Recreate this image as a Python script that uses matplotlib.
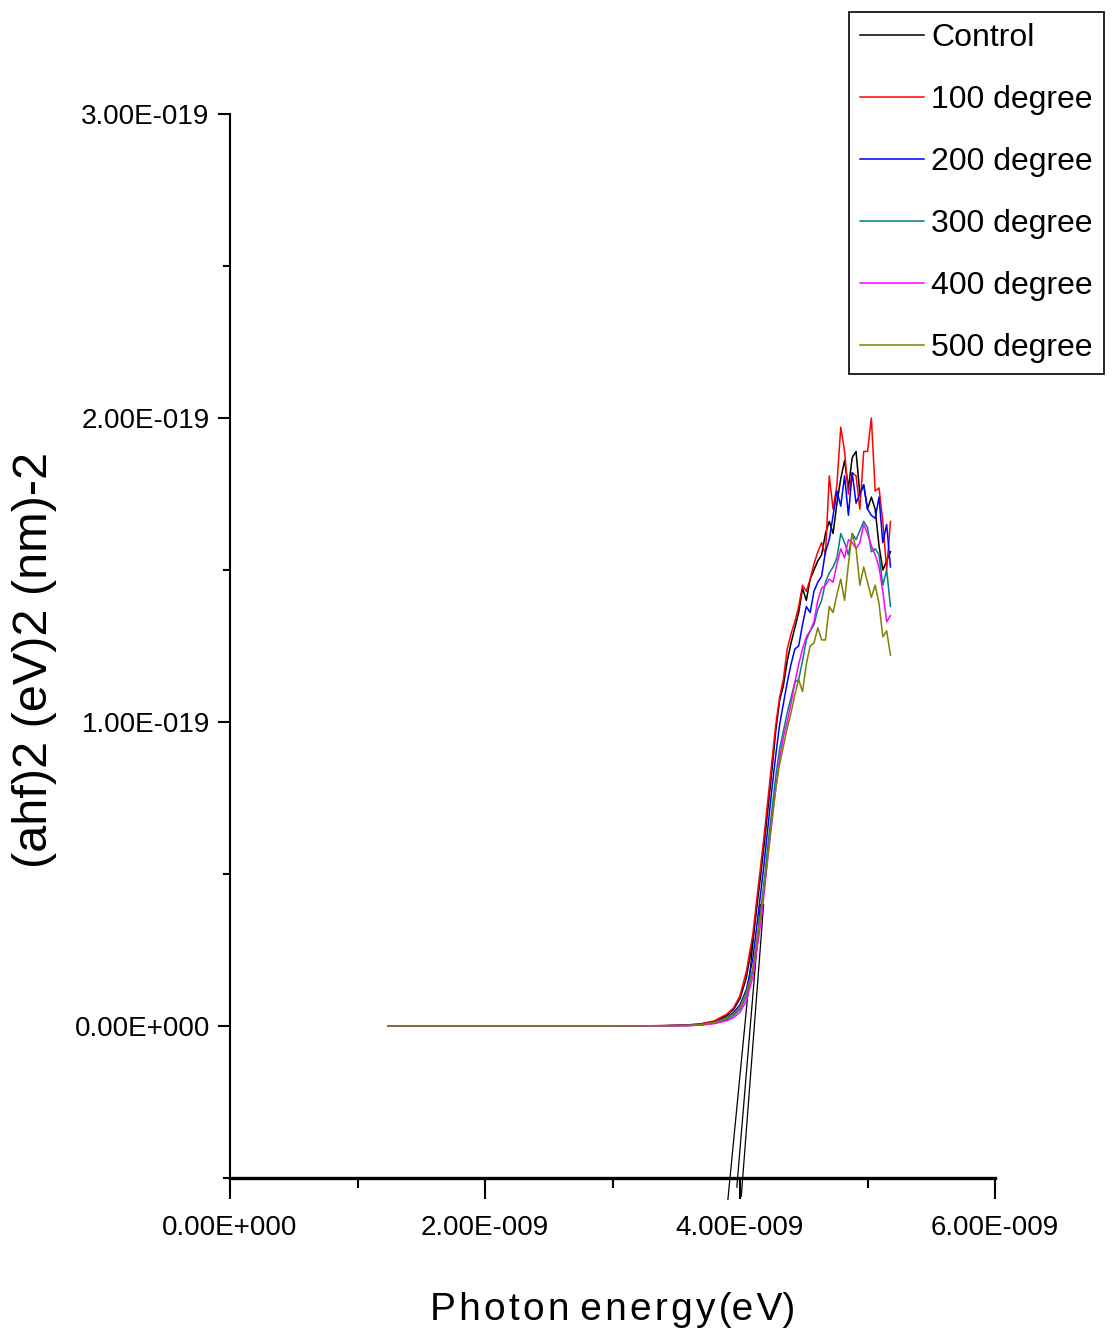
# -*- coding: utf-8 -*-

import numpy as np
import matplotlib
matplotlib.use("Agg")
import matplotlib.pyplot as plt
from matplotlib.ticker import MultipleLocator, FuncFormatter

plt.rcParams['font.family'] = ['Liberation Sans Narrow', 'Liberation Sans', 'DejaVu Sans']

# Energía del fotón en unidades de 1E-009, (ahf)^2 en unidades de 1E-019
energia = [1.24, 2.0, 3.0, 3.4, 3.6, 3.7, 3.8, 3.9, 3.95, 4.0, 4.05, 4.1,
           4.16, 4.19, 4.22, 4.25, 4.28, 4.31, 4.34, 4.37, 4.40, 4.43, 4.46, 4.49,
           4.52, 4.55, 4.58, 4.61, 4.64, 4.67, 4.70, 4.73, 4.76, 4.79, 4.82, 4.85,
           4.88, 4.91, 4.94, 4.97, 5.00, 5.03, 5.06, 5.09, 5.12, 5.15, 5.18]

control = [0, 0, 0, 0.001, 0.003, 0.007, 0.015, 0.035, 0.055, 0.09, 0.16, 0.28,
           0.49, 0.60, 0.72, 0.84, 0.97, 1.07, 1.12, 1.20, 1.26, 1.31, 1.36, 1.44,
           1.40, 1.47, 1.50, 1.53, 1.55, 1.62, 1.66, 1.62, 1.72, 1.80, 1.86, 1.77,
           1.87, 1.89, 1.75, 1.78, 1.70, 1.74, 1.70, 1.58, 1.50, 1.53, 1.56]

grado_100 = [0, 0, 0, 0.001, 0.004, 0.008, 0.017, 0.04, 0.06, 0.10, 0.18, 0.30,
             0.52, 0.63, 0.75, 0.87, 0.99, 1.08, 1.14, 1.24, 1.29, 1.33, 1.38, 1.45,
             1.43, 1.47, 1.52, 1.56, 1.59, 1.55, 1.81, 1.70, 1.78, 1.97, 1.89, 1.75,
             1.82, 1.81, 1.70, 1.89, 1.89, 2.00, 1.76, 1.77, 1.66, 1.50, 1.66]

grado_200 = [0, 0, 0, 0.001, 0.002, 0.005, 0.012, 0.028, 0.045, 0.07, 0.12, 0.22,
             0.43, 0.54, 0.66, 0.78, 0.89, 0.99, 1.06, 1.13, 1.19, 1.24, 1.25, 1.32,
             1.38, 1.36, 1.43, 1.46, 1.48, 1.56, 1.60, 1.68, 1.76, 1.71, 1.81, 1.68,
             1.82, 1.72, 1.75, 1.78, 1.70, 1.68, 1.67, 1.74, 1.59, 1.65, 1.51]

grado_300 = [0, 0, 0, 0, 0.002, 0.004, 0.010, 0.022, 0.035, 0.055, 0.10, 0.18,
             0.37, 0.48, 0.60, 0.71, 0.82, 0.91, 0.97, 1.03, 1.08, 1.13, 1.14, 1.20,
             1.27, 1.30, 1.32, 1.37, 1.40, 1.46, 1.49, 1.51, 1.54, 1.62, 1.59, 1.55,
             1.62, 1.60, 1.63, 1.66, 1.64, 1.56, 1.57, 1.55, 1.45, 1.50, 1.38]

grado_400 = [0, 0, 0, 0, 0.001, 0.003, 0.008, 0.018, 0.028, 0.045, 0.085, 0.16,
             0.33, 0.44, 0.56, 0.67, 0.78, 0.88, 0.95, 1.00, 1.06, 1.13, 1.19, 1.24,
             1.28, 1.30, 1.33, 1.40, 1.44, 1.45, 1.47, 1.46, 1.52, 1.57, 1.54, 1.60,
             1.59, 1.57, 1.59, 1.65, 1.62, 1.58, 1.55, 1.51, 1.43, 1.33, 1.35]

grado_500 = [0, 0, 0, 0.001, 0.002, 0.005, 0.012, 0.026, 0.04, 0.062, 0.11, 0.19,
             0.36, 0.46, 0.57, 0.68, 0.78, 0.86, 0.92, 0.98, 1.03, 1.09, 1.14, 1.10,
             1.19, 1.25, 1.26, 1.31, 1.27, 1.27, 1.38, 1.36, 1.42, 1.47, 1.40, 1.52,
             1.62, 1.57, 1.45, 1.51, 1.46, 1.41, 1.45, 1.39, 1.28, 1.30, 1.22]

series = [control, grado_100, grado_200, grado_300, grado_400, grado_500]
etiquetas = ["Control", "100 degree", "200 degree", "300 degree", "400 degree", "500 degree"]
colores = ["#000000", "#FF0000", "#0000FF", "#008080", "#FF00FF", "#808000"]

# Rectas tangentes para estimar el gap (extremo inferior, extremo superior)
tangente_x = [[3.905, 4.13], [3.975, 4.16], [4.01, 4.185]]
tangente_y = [[-0.57, 0.40], [-0.53, 0.40], [-0.56, 0.40]]


def formato_e(valor, pos):
	if abs(valor) < 1e-40:
		return "0.00E+000"
	exponente = int(np.floor(round(np.log10(abs(valor)), 6)))
	mantisa = valor / 10.0 ** exponente
	return "{:.2f}E{:+04d}".format(mantisa, exponente)


fig = plt.figure(figsize=(11.14, 13.40), dpi=100)
ax = fig.add_axes([0.2065, 0.1209, 0.6867, 0.7940])

x = np.array(energia) * 1e-9
for valores, etiqueta, color in zip(series, etiquetas, colores):
	ax.plot(x, np.array(valores) * 1e-19, color=color, lw=1.1, label=etiqueta)

for tx, ty in zip(tangente_x, tangente_y):
	ax.plot(np.array(tx) * 1e-9, np.array(ty) * 1e-19, color="black", lw=0.9,
			clip_on=False, zorder=1)

ax.set_xlim(0, 6e-9)
ax.set_ylim(-0.5e-19, 3e-19)

ax.xaxis.set_major_locator(MultipleLocator(2e-9))
ax.xaxis.set_minor_locator(MultipleLocator(1e-9))
ax.yaxis.set_major_locator(MultipleLocator(1e-19))
ax.yaxis.set_minor_locator(MultipleLocator(0.5e-19))
ax.xaxis.set_major_formatter(FuncFormatter(formato_e))
ax.yaxis.set_major_formatter(FuncFormatter(formato_e))

ax.spines["top"].set_visible(False)
ax.spines["right"].set_visible(False)
ax.spines["left"].set_linewidth(1.5)
ax.spines["bottom"].set_linewidth(2.4)

ax.tick_params(axis="x", which="major", direction="out", length=15, width=1.5, pad=12, labelsize=20)
ax.tick_params(axis="x", which="minor", direction="out", length=7, width=1.5)
ax.tick_params(axis="y", which="major", direction="out", length=8.6, width=1.5, pad=6, labelsize=20)
ax.tick_params(axis="y", which="minor", direction="out", length=5, width=1.5)

fig.text(0.0314, 0.5075, "(ahf)2 (eV)2 (nm)-2", rotation=90, ha="center", va="center",
		 family=["Liberation Sans", "DejaVu Sans"], fontsize=35)
fig.text(0.5503, 0.0224, "P\u200ah\u200ao\u200at\u200ao\u200an e\u200an\u200ae\u200ar\u200ag\u200ay\u200a(e\u200aV)",
		 ha="center", va="center", fontsize=28)

leyenda = fig.legend(loc="upper right", bbox_to_anchor=(1104 / 1114, 1 - 12 / 1340),
					 borderaxespad=0, fontsize=23, handlelength=2.0, handletextpad=0.22,
					 labelspacing=1.0, borderpad=0.35, fancybox=False, framealpha=1)
leyenda.get_frame().set_edgecolor("black")
leyenda.get_frame().set_linewidth(1.2)

fig.savefig("out.png", dpi=100)
plt.close()
